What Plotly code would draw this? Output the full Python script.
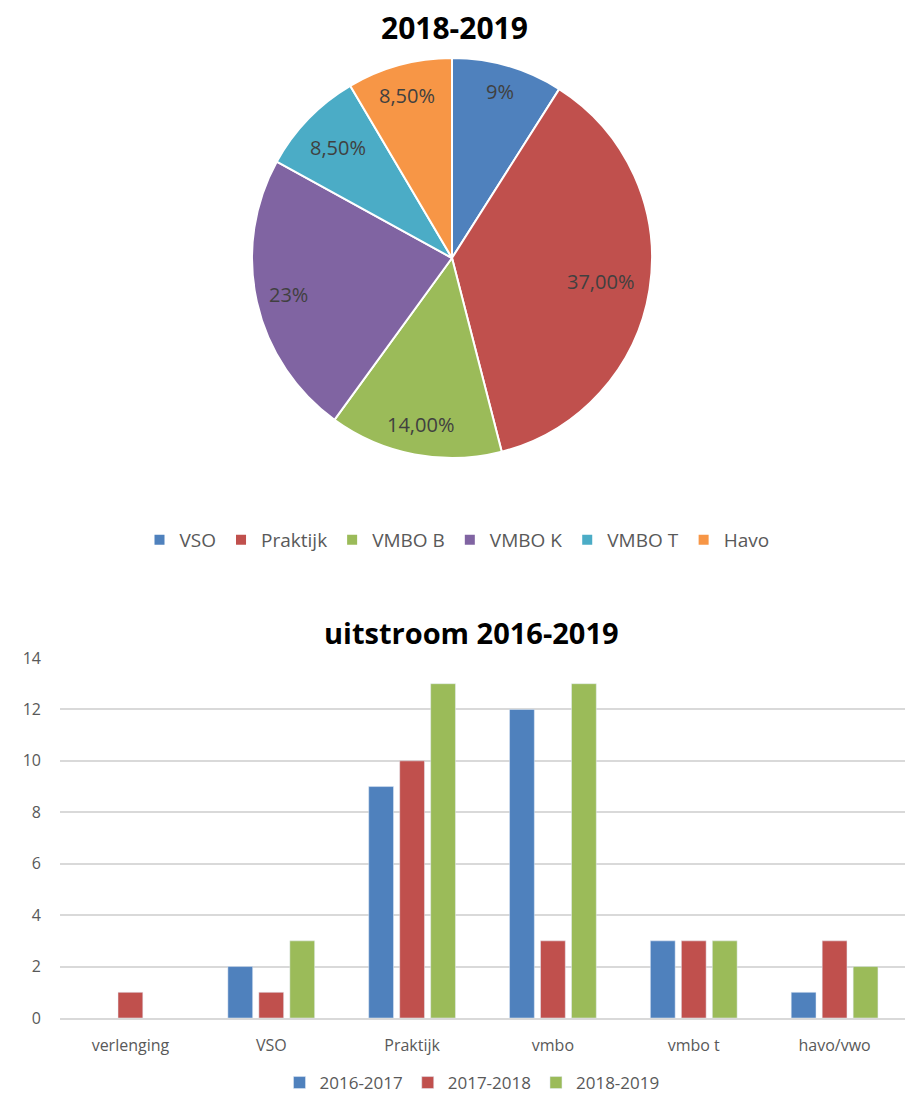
import math
import plotly.graph_objects as go

# Pie data
pie_labels = ["VSO", "Praktijk", "VMBO B", "VMBO K", "VMBO T", "Havo"]
pie_values = [9, 37, 14, 23, 8.5, 8.5]
pie_text = ["9%", "37,00%", "14,00%", "23%", "8,50%", "8,50%"]
pie_colors = ["#4F81BD", "#C0504D", "#9BBB59", "#8064A2", "#4BACC6", "#F79646"]

# Bar data
categories = ["verlenging", "VSO", "Praktijk", "vmbo", "vmbo t", "havo/vwo"]
series_names = ["2016-2017", "2017-2018", "2018-2019"]
s2016 = [None, 2, 9, 12, 3, 1]
s2017 = [1, 1, 10, 3, 3, 3]
s2018 = [None, 3, 13, 13, 3, 2]
bar_colors = ["#4F81BD", "#C0504D", "#9BBB59"]

# page geometry (the page body has an 8px margin)
OFF = 8
W, H = 919 - 2 * OFF, 1106 - 2 * OFF
FONT = "Open Sans"


def px(x):
    return (x - OFF) / W


def py(y):
    return 1 - (y - OFF) / H


# pie placement (page pixels)
CX, CY, R = 452, 258, 200

fig = go.Figure()

fig.add_trace(go.Pie(
    labels=pie_labels, values=pie_values,
    textinfo="none",
    marker=dict(colors=pie_colors, line=dict(color="white", width=2)),
    sort=False, direction="clockwise", rotation=0,
    domain=dict(x=[px(CX - R), px(CX + R)], y=[py(CY + R), py(CY - R)]),
    hoverinfo="label+value", legend="legend",
))

for name, vals, col in zip(series_names, [s2016, s2017, s2018], bar_colors):
    fig.add_trace(go.Bar(
        x=categories, y=vals, name=name, marker=dict(color=col),
        legend="legend2",
    ))

# pie data labels, placed near the rim like the original
annotations = []
total = sum(pie_values)
cum = 0
for v, t in zip(pie_values, pie_text):
    mid = (cum + v / 2) / total * 2 * math.pi
    cum += v
    dx, dy = math.sin(mid), -math.cos(mid)
    hw, hh = len(t) * 5.7, 10
    r = 0.93 * R - (abs(dx) * hw + abs(dy) * hh)
    annotations.append(dict(
        text=t, x=px(CX + dx * r), y=py(CY + dy * r), xref="paper", yref="paper",
        xanchor="center", yanchor="middle", showarrow=False,
        font=dict(family=FONT, size=20, color="#404040"),
    ))

annotations += [
    dict(text="<b>2018-2019</b>", x=px(454), y=py(27), xref="paper", yref="paper",
         xanchor="center", yanchor="middle", showarrow=False,
         font=dict(family=FONT, size=30, color="black")),
    dict(text="<b>uitstroom 2016-2019</b>", x=px(472), y=py(632), xref="paper", yref="paper",
         xanchor="center", yanchor="middle", showarrow=False,
         font=dict(family=FONT, size=29, color="black")),
]

fig.update_layout(
    width=W, height=H,
    margin=dict(l=0, r=0, t=0, b=0, autoexpand=False),
    paper_bgcolor="white", plot_bgcolor="white",
    font=dict(family=FONT, color="#595959", size=16),
    barmode="group", bargap=0.34, bargroupgap=0.2,
    xaxis=dict(domain=[px(60), px(905)], showgrid=False, showline=True,
               linecolor="#d9d9d9", linewidth=1.5, automargin=False,
               tickfont=dict(family=FONT, size=16, color="#595959"),
               ticklabelstandoff=12),
    yaxis=dict(domain=[py(1018), py(658)], range=[0, 14], dtick=2,
               showgrid=True, gridcolor="#d9d9d9", gridwidth=1.5,
               zeroline=False, showline=False, automargin=False,
               tickfont=dict(family=FONT, size=16, color="#595959"),
               ticklabelstandoff=18),
    legend=dict(orientation="h", x=px(457), xanchor="center",
                y=py(540), yanchor="middle",
                font=dict(family=FONT, size=19, color="#595959"),
                itemwidth=30, traceorder="normal"),
    legend2=dict(orientation="h", x=px(472), xanchor="center",
                 y=py(1083), yanchor="middle",
                 font=dict(family=FONT, size=17, color="#595959"),
                 itemwidth=30, traceorder="normal"),
    annotations=annotations,
    showlegend=True,
)

fig.write_html("out.html")
